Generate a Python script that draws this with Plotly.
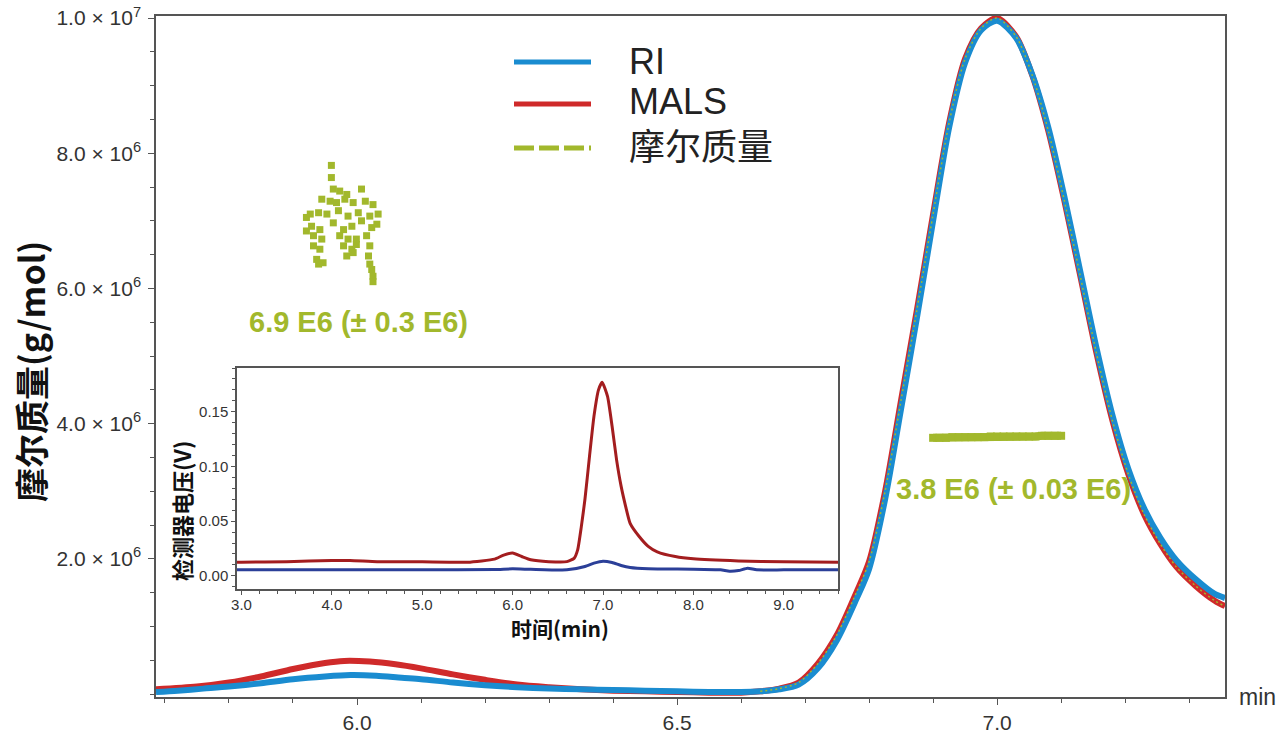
import plotly.graph_objects as go

# ---------------- data ----------------
# main chromatogram (scaled to molar-mass axis), time in min, values in 1e6 g/mol
mals_t = [5.686, 5.75, 5.80, 5.85, 5.90, 5.95, 5.98, 6.02, 6.06, 6.10, 6.15, 6.20, 6.25, 6.30,
          6.35, 6.40, 6.45, 6.50, 6.55, 6.60, 6.63, 6.66, 6.69, 6.72, 6.75, 6.78, 6.80, 6.825,
          6.85, 6.875, 6.90, 6.925, 6.95, 6.975, 7.00, 7.03, 7.055, 7.08, 7.105, 7.13, 7.155,
          7.18, 7.205, 7.23, 7.255, 7.28, 7.31, 7.34, 7.356]
mals_v = [0.07, 0.11, 0.17, 0.26, 0.37, 0.46, 0.49, 0.48, 0.44, 0.38, 0.29, 0.21, 0.14, 0.10,
          0.07, 0.05, 0.04, 0.03, 0.02, 0.02, 0.04, 0.08, 0.17, 0.45, 0.88, 1.50, 1.96, 3.00,
          4.35, 5.70, 7.10, 8.45, 9.40, 9.85, 10.0, 9.72, 9.15, 8.33, 7.30, 6.18, 5.05,
          4.05, 3.25, 2.65, 2.22, 1.88, 1.60, 1.38, 1.30]

ri_t = [5.686, 5.72, 5.76, 5.80, 5.85, 5.90, 5.95, 5.99, 6.03, 6.07, 6.10, 6.15, 6.20, 6.25,
        6.30, 6.35, 6.40, 6.45, 6.50, 6.55, 6.60, 6.63, 6.66, 6.69, 6.72, 6.75, 6.78, 6.80,
        6.825, 6.85, 6.875, 6.90, 6.925, 6.95, 6.975, 7.00, 7.03, 7.055, 7.08, 7.105, 7.13,
        7.155, 7.18, 7.205, 7.23, 7.255, 7.28, 7.31, 7.34, 7.356]
ri_v = [0.03, 0.05, 0.08, 0.11, 0.16, 0.22, 0.26, 0.28, 0.27, 0.24, 0.22, 0.17, 0.13, 0.10,
        0.08, 0.07, 0.06, 0.05, 0.04, 0.03, 0.03, 0.04, 0.07, 0.14, 0.38, 0.80, 1.40, 1.85,
        2.88, 4.22, 5.58, 7.00, 8.38, 9.34, 9.82, 9.96, 9.70, 9.16, 8.38, 7.36, 6.25,
        5.13, 4.13, 3.33, 2.74, 2.31, 1.98, 1.70, 1.48, 1.42]

# molar mass points, first (aggregate) peak
mm1_t = [5.960, 5.960, 5.963, 5.973, 5.984, 6.007, 5.945, 5.958, 5.968, 5.981, 5.994, 6.013,
         6.025, 5.927, 5.940, 5.953, 5.971, 5.986, 6.002, 6.020, 5.929, 5.942, 5.963, 5.979,
         5.992, 6.007, 6.023, 5.932, 5.945, 5.973, 5.986, 5.999, 6.015, 5.932, 5.942, 5.979,
         5.992, 5.999, 6.020, 5.937, 5.947, 5.984, 5.994, 6.018, 5.940, 6.020, 6.025, 6.023,
         5.921, 5.921, 6.031, 6.033, 6.025]
mm1_v = [7.82, 7.64, 7.47, 7.44, 7.39, 7.47, 7.32, 7.29, 7.27, 7.32, 7.27, 7.29,
         7.24, 7.10, 7.12, 7.10, 7.15, 7.07, 7.12, 7.07, 6.92, 6.87, 6.97, 6.87,
         6.92, 7.00, 6.90, 6.78, 6.73, 6.78, 6.73, 6.73, 6.78, 6.63, 6.58, 6.63,
         6.58, 6.65, 6.63, 6.43, 6.38, 6.48, 6.53, 6.48, 6.36, 6.36, 6.18, 6.28,
         7.05, 6.85, 6.95, 7.10, 6.10]

# molar mass points, main peak
mm2_t = [6.90, 6.91, 6.92, 6.93, 6.94, 6.95, 6.96, 6.97, 6.98, 6.99, 7.00, 7.01, 7.02, 7.03,
         7.04, 7.05, 7.06, 7.07, 7.08, 7.09, 7.10]
mm2_v = [3.79, 3.79, 3.79, 3.80, 3.80, 3.80, 3.80, 3.80, 3.80, 3.81, 3.81, 3.81, 3.81, 3.81,
         3.81, 3.81, 3.81, 3.82, 3.82, 3.82, 3.82]

# inset: detector voltage (V) vs time (min)
in_mals_t = [2.95, 3.0, 3.5, 4.0, 4.2, 4.5, 5.0, 5.5, 5.8, 5.9, 6.0, 6.1, 6.2, 6.4, 6.6, 6.68,
             6.72, 6.76, 6.80, 6.85, 6.90, 6.95, 6.99, 7.05, 7.10, 7.15, 7.20, 7.25, 7.30, 7.40,
             7.50, 7.60, 7.80, 8.0, 8.5, 9.0, 9.6]
in_mals_v = [0.0125, 0.0125, 0.013, 0.014, 0.014, 0.013, 0.0128, 0.0125, 0.0153, 0.019, 0.0208,
             0.0177, 0.0147, 0.013, 0.013, 0.016, 0.024, 0.045, 0.070, 0.109, 0.146, 0.170,
             0.177, 0.164, 0.137, 0.106, 0.082, 0.0636, 0.048, 0.036, 0.027, 0.022, 0.0177,
             0.0156, 0.0137, 0.0128, 0.0125]
in_ri_t = [2.95, 3.0, 4.0, 5.0, 5.8, 6.0, 6.2, 6.6, 6.8, 6.9, 7.0, 7.1, 7.2, 7.3, 7.5, 8.0,
           8.3, 8.4, 8.5, 8.6, 8.7, 9.0, 9.6]
in_ri_v = [0.0055, 0.0055, 0.0055, 0.0055, 0.0058, 0.0064, 0.006, 0.0055, 0.0086, 0.0116,
           0.0134, 0.0122, 0.0095, 0.0076, 0.0064, 0.0061, 0.0055, 0.0043, 0.0049, 0.007,
           0.0055, 0.0055, 0.0055]

x_tick_vals = [6.0, 6.5, 7.0]
x_tick_text = ["6.0", "6.5", "7.0"]
y_tick_vals = [2e6, 4e6, 6e6, 8e6, 1e7]
y_tick_text = ["2.0 × 10<sup>6</sup>", "4.0 × 10<sup>6</sup>", "6.0 × 10<sup>6</sup>",
               "8.0 × 10<sup>6</sup>", "1.0 × 10<sup>7</sup>"]
in_x_vals = [3.0, 4.0, 5.0, 6.0, 7.0, 8.0, 9.0]
in_x_text = ["3.0", "4.0", "5.0", "6.0", "7.0", "8.0", "9.0"]
in_y_vals = [0.0, 0.05, 0.10, 0.15]
in_y_text = ["0.00", "0.05", "0.10", "0.15"]

legend_labels = ["RI", "MALS", "摩尔质量"]
note_left = "6.9 E6 (± 0.3 E6)"
note_right = "3.8 E6 (± 0.03 E6)"

# ---------------- styling ----------------
W, H = 1281, 733
L, R, T, B = 156, 1225, 16, 697
BLUE = "#1a8cd0"
RED = "#cf2a2a"
GREEN = "#a2b82c"
DRED = "#a31d1f"
NAVY = "#2b3f98"
AX = "#555555"
TXT = "#333333"
FONT = "Liberation Sans, Arial, Noto Sans CJK SC, sans-serif"
CJK = "Noto Sans CJK SC, Liberation Sans, sans-serif"


def px(x):
    return (x - L) / (R - L)


def py(y):
    return (B - y) / (B - T)


E6 = 1e6
fig = go.Figure()

fig.add_trace(go.Scatter(x=mals_t, y=[v * E6 for v in mals_v], mode="lines", name="MALS",
                         line=dict(color=RED, width=6, shape="spline", smoothing=0.8),
                         showlegend=False))
fig.add_trace(go.Scatter(x=ri_t, y=[v * E6 for v in ri_v], mode="lines", name="RI",
                         line=dict(color=BLUE, width=6, shape="spline", smoothing=0.8),
                         showlegend=False))
# molar mass trace following the main peak (dotted)
sel = [i for i, t in enumerate(mals_t) if t >= 6.63]
fig.add_trace(go.Scatter(x=[mals_t[i] for i in sel], y=[mals_v[i] * E6 for i in sel],
                         mode="lines", name="摩尔质量",
                         line=dict(color=GREEN, width=1.5, dash="2px,3px", shape="spline",
                                   smoothing=0.8),
                         showlegend=False))
fig.add_trace(go.Scatter(x=mm1_t, y=[v * E6 for v in mm1_v], mode="markers", name="摩尔质量",
                         marker=dict(symbol="square", size=7, color=GREEN, line=dict(width=0)),
                         showlegend=False))
fig.add_trace(go.Scatter(x=mm2_t, y=[v * E6 for v in mm2_v], mode="lines+markers",
                         name="摩尔质量",
                         line=dict(color=GREEN, width=8),
                         marker=dict(symbol="square", size=8, color=GREEN, line=dict(width=0)),
                         showlegend=False))

# inset traces
fig.add_trace(go.Scatter(x=in_mals_t, y=in_mals_v, mode="lines", xaxis="x2", yaxis="y2",
                         line=dict(color=DRED, width=3, shape="spline", smoothing=0.5),
                         showlegend=False))
fig.add_trace(go.Scatter(x=in_ri_t, y=in_ri_v, mode="lines", xaxis="x2", yaxis="y2",
                         line=dict(color=NAVY, width=3, shape="spline", smoothing=0.5),
                         showlegend=False))

axis_common = dict(showline=True, linecolor=AX, linewidth=1.5, mirror=True, showgrid=False,
                   zeroline=False, ticks="outside", tickcolor=AX, tickwidth=1.2,
                   automargin=False)

fig.update_layout(
    width=W, height=H,
    margin=dict(l=L, r=W - R, t=T, b=H - B, autoexpand=False),
    paper_bgcolor="white", plot_bgcolor="white",
    font=dict(family=FONT, color=TXT),
    xaxis=dict(domain=[0, 1], range=[5.686, 7.356], tickvals=x_tick_vals, ticktext=x_tick_text,
               ticklen=6, tickfont=dict(size=21, color=TXT), ticklabelstandoff=0,
               minor=dict(dtick=0.1, tick0=0, ticklen=4, ticks="outside", tickcolor=AX),
               **axis_common),
    yaxis=dict(domain=[0, 1], range=[-4.4e4, 1.003e7], tickvals=y_tick_vals,
               ticktext=y_tick_text, ticklen=6, tickfont=dict(size=21, color=TXT),
               ticklabelstandoff=3,
               minor=dict(dtick=5e5, tick0=0, ticklen=4, ticks="outside", tickcolor=AX),
               **axis_common),
    xaxis2=dict(domain=[px(237), px(838)], anchor="y2", range=[2.95, 9.6],
                tickvals=in_x_vals, ticktext=in_x_text, ticklen=4,
                tickfont=dict(size=15, color=TXT), ticklabelstandoff=-3,
                minor=dict(dtick=0.2, tick0=0, ticklen=3, ticks="outside", tickcolor=AX),
                **axis_common),
    yaxis2=dict(domain=[py(589), py(368)], anchor="x2", range=[-0.012, 0.190],
                tickvals=in_y_vals, ticktext=in_y_text, ticklen=4,
                tickfont=dict(size=15, color=TXT),
                minor=dict(dtick=0.01, tick0=0, ticklen=3, ticks="outside", tickcolor=AX),
                **axis_common),
)

shapes = []
# inset white background
shapes.append(dict(type="rect", xref="paper", yref="paper", x0=px(237), x1=px(838),
                   y0=py(589), y1=py(368), fillcolor="white", line=dict(width=0),
                   layer="below"))
# legend samples
leg_y = [62, 104, 148]
leg_col = [BLUE, RED, GREEN]
leg_dash = ["solid", "solid", "20px,5px"]
for yy, c, d in zip(leg_y, leg_col, leg_dash):
    shapes.append(dict(type="line", xref="paper", yref="paper", x0=px(514), x1=px(591),
                       y0=py(yy), y1=py(yy), line=dict(color=c, width=5, dash=d)))
fig.update_layout(shapes=shapes)

ann = []
for yy, lab in zip([62, 102, 148], legend_labels):
    ann.append(dict(x=px(627), y=py(yy), xref="paper", yref="paper", text=lab,
                    showarrow=False, xanchor="left", yanchor="middle",
                    font=dict(size=36, color="#222222", family=FONT)))
ann.append(dict(x=px(358), y=py(322), xref="paper", yref="paper", text="<b>" + note_left + "</b>",
                showarrow=False, xanchor="center", yanchor="middle",
                font=dict(size=29, color=GREEN, family=FONT)))
ann.append(dict(x=px(1013), y=py(489), xref="paper", yref="paper",
                text="<b>" + note_right + "</b>",
                showarrow=False, xanchor="center", yanchor="middle",
                font=dict(size=29, color=GREEN, family=FONT)))
ann.append(dict(x=px(1257), y=py(697), xref="paper", yref="paper", text="min",
                showarrow=False, xanchor="center", yanchor="middle",
                font=dict(size=23, color=TXT, family=FONT)))
ann.append(dict(x=px(30), y=py(372), xref="paper", yref="paper",
                text="<b>摩尔质量(g/mol)</b>", textangle=-90,
                showarrow=False, xanchor="center", yanchor="middle",
                font=dict(size=34, color="#111111", family=CJK)))
ann.append(dict(x=px(560), y=py(628), xref="paper", yref="paper",
                text="<b>时间(min)</b>",
                showarrow=False, xanchor="center", yanchor="middle",
                font=dict(size=21, color="#111111", family=CJK)))
ann.append(dict(x=px(181), y=py(511), xref="paper", yref="paper",
                text="<b>检测器电压(V)</b>", textangle=-90,
                showarrow=False, xanchor="center", yanchor="middle",
                font=dict(size=22, color="#111111", family=CJK)))
fig.update_layout(annotations=ann)

fig.write_html("out.html",
               config={"displayModeBar": False},
               post_script="document.body.style.margin='0';"
                           "document.body.style.overflow='hidden';")
